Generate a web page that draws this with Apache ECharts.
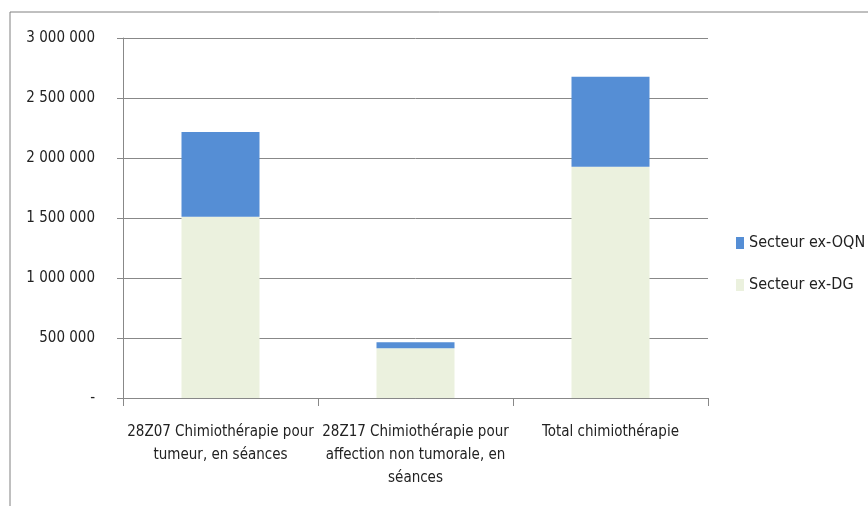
<!DOCTYPE html>
<html>
<head>
    <meta charset="UTF-8">
    <title>Chimiothérapie</title>
    <script src="https://cdn.jsdelivr.net/npm/echarts@6/dist/echarts.min.js"></script>
</head>
<body style="margin: 0;overflow: hidden;background: #fff;">
<div id="chart" style="width: 868px;height: 506px"></div>
<script type="text/javascript">
    var categories = [
        '28Z07 Chimiothérapie pour\ntumeur, en séances',
        '28Z17 Chimiothérapie pour\naffection non tumorale, en\nséances',
        'Total chimiothérapie'
    ];
    var secteurDG = [1511000, 414000, 1928000];
    var secteurOQN = [706000, 50000, 750000];
    var seriesNames = ['Secteur ex-DG', 'Secteur ex-OQN'];

    var font = '"Liberation Sans Narrow", "DejaVu Sans Condensed", sans-serif';
    var grey = '#888888';

    function fmt(v) {
        if (v === 0) return '-';
        return String(v).replace(/\B(?=(\d{3})+(?!\d))/g, ' ');
    }

    var chart = echarts.init(document.getElementById('chart'));
    chart.setOption({
        animation: false,
        backgroundColor: '#fff',
        graphic: [{
            type: 'rect',
            shape: {x: 10, y: 12, width: 900, height: 560},
            style: {fill: 'none', stroke: '#808080', lineWidth: 1}
        }],
        grid: {left: 123, right: 160, top: 38, bottom: 108},
        legend: {
            orient: 'vertical',
            left: 731,
            top: 230,
            icon: 'rect',
            itemWidth: 8,
            itemHeight: 12,
            itemGap: 26,
            data: [seriesNames[1], seriesNames[0]],
            textStyle: {fontFamily: font, fontSize: 16, color: '#222'}
        },
        xAxis: {
            type: 'category',
            data: categories,
            axisLine: {lineStyle: {color: grey}},
            axisTick: {show: true, length: 8, lineStyle: {color: grey}},
            axisLabel: {
                fontFamily: font, fontSize: 15, color: '#222',
                lineHeight: 23, margin: 23, interval: 0
            }
        },
        yAxis: {
            type: 'value',
            min: 0,
            max: 3000000,
            interval: 500000,
            axisLine: {show: true, lineStyle: {color: grey}},
            axisTick: {show: true, length: 6, lineStyle: {color: grey}},
            splitLine: {lineStyle: {color: grey}},
            axisLabel: {
                fontFamily: font, fontSize: 15, color: '#222', margin: 28,
                formatter: fmt
            }
        },
        series: [{
            name: seriesNames[0],
            type: 'bar',
            stack: 'total',
            barWidth: 78,
            data: secteurDG,
            itemStyle: {color: '#EBF1DE'}
        }, {
            name: seriesNames[1],
            type: 'bar',
            stack: 'total',
            barWidth: 78,
            data: secteurOQN,
            itemStyle: {color: '#558ED5'}
        }]
    });
</script>
</body>
</html>
